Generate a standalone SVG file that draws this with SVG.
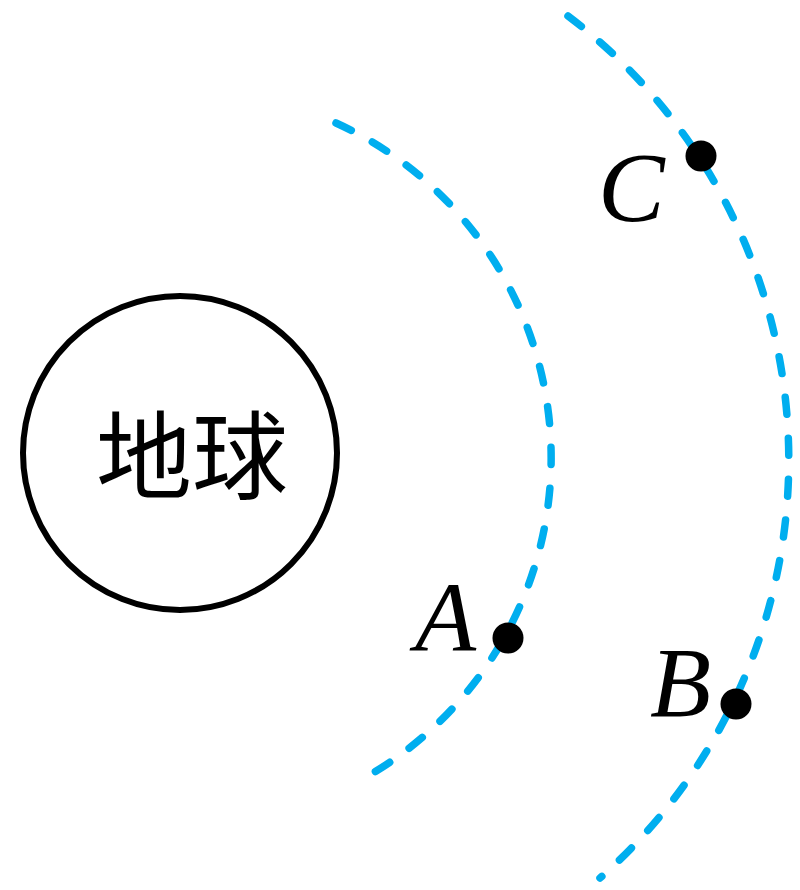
<svg xmlns="http://www.w3.org/2000/svg" width="800" height="890" viewBox="0 0 800 890">
<style>
.orbit{fill:none;stroke:#00AEEF;stroke-width:7.5;stroke-linecap:round;stroke-dasharray:17 24}
.dot{fill:#000}
.lbl{font-family:"Liberation Serif","Times New Roman",serif;font-style:italic;font-size:100px;fill:#000}
.cn{font-family:"Noto Sans CJK SC","Noto Sans CJK TC",sans-serif;font-size:96px;fill:#000}
</style>
<rect width="800" height="890" fill="#fff"/>
<g id="connectors">
<path class="orbit" d="M336,123 A368,368 0 0 1 373,773"/>
<path class="orbit" d="M568,16 A557,557 0 0 1 600,878"/>
</g>
<g id="earth">
<circle cx="180" cy="453" r="157" fill="none" stroke="#000" stroke-width="6"/>
<text class="cn" x="192" y="491" text-anchor="middle">地球</text>
</g>
<g id="A">
<circle class="dot" cx="508" cy="638" r="15.5"/>
<text class="lbl" x="415" y="651">A</text>
</g>
<g id="B">
<circle class="dot" cx="736" cy="704" r="15.5"/>
<text class="lbl" x="650" y="716">B</text>
</g>
<g id="C">
<circle class="dot" cx="701" cy="156" r="15.5"/>
<text class="lbl" x="598" y="221">C</text>
</g>
</svg>
